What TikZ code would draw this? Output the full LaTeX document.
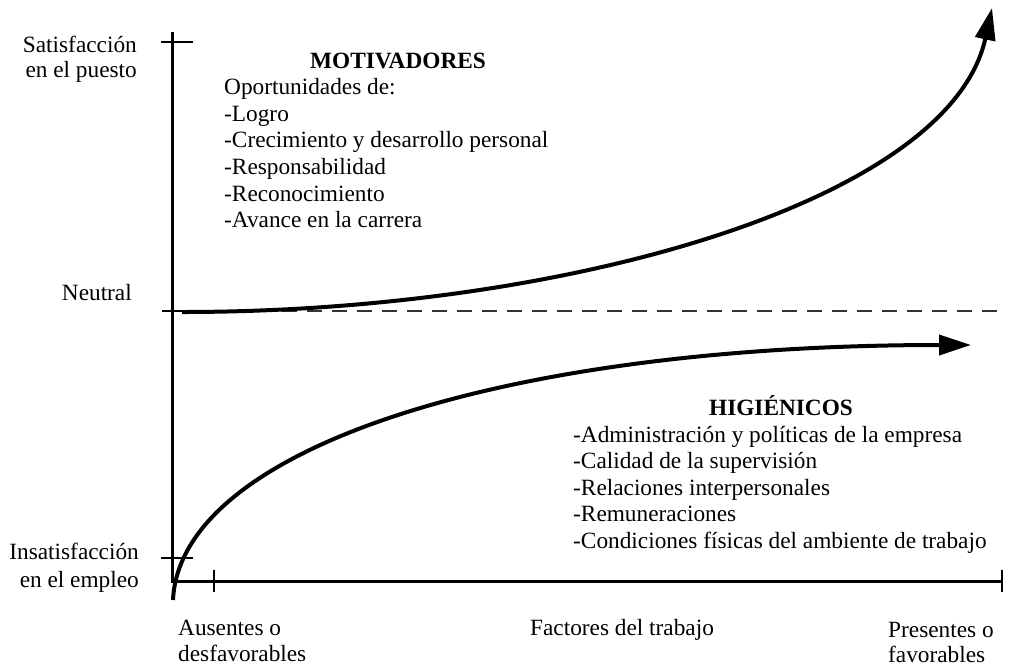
\documentclass[tikz,border=0pt]{standalone}
\usepackage{fontspec}
\setmainfont{Liberation Serif}
\usetikzlibrary{arrows.meta}
\begin{document}
\begin{tikzpicture}[x=1pt,y=-1pt,
  txt/.style={font=\fontsize{23.3}{26.6}\selectfont, inner sep=0pt},
  head/.style={txt, font=\fontsize{23.3}{26.6}\selectfont\bfseries},
  axis/.style={line width=3pt},
  tick/.style={line width=2pt},
  curve/.style={line width=4pt, -{Triangle[length=32pt,width=20pt]}},
  neutral/.style={line width=2.5pt, black!80, dash pattern=on 15pt off 10pt}]
\useasboundingbox (0,0) rectangle (1014,667);

% axes
\coordinate (ytop) at (172,32);
\coordinate (orig) at (172,581);
\coordinate (xend) at (1003,581);
\draw[axis] (ytop) -- (orig) -- (xend);

% ticks
\coordinate (t1a) at (161,42);  \coordinate (t1b) at (193,42);
\coordinate (t2a) at (161,558); \coordinate (t2b) at (193,558);
\coordinate (t3a) at (214,570); \coordinate (t3b) at (214,592);
\coordinate (t4a) at (1002,570); \coordinate (t4b) at (1002,592);
\coordinate (t5a) at (162,311); \coordinate (t5b) at (182,311);
\draw[tick] (t1a) -- (t1b);
\draw[tick] (t2a) -- (t2b);
\draw[tick] (t3a) -- (t3b);
\draw[tick] (t4a) -- (t4b);
\draw[tick] (t5a) -- (t5b);

% neutral level
\coordinate (n0) at (182,311);
\coordinate (n1) at (1006,311);
\draw[neutral] (n0) -- (n1);

% motivators curve
\coordinate (ms) at (182,312);
\coordinate (me) at (992,8);
\draw[curve] (ms) .. controls (570,312) and (950,200) .. (me);

% hygiene curve
\coordinate (hs) at (173,600);
\coordinate (he) at (971,345);
\draw[curve] (hs) .. controls (180,450) and (500,345) .. (he);

% axis labels
\node[txt, anchor=base east] (sat1) at (137,52) {Satisfacción};
\node[txt, anchor=base east] (sat2) at (137,77) {en el puesto};
\node[txt, anchor=base east] (neu) at (132,300) {Neutral};
\node[txt, anchor=base east] (ins1) at (139,559) {Insatisfacción};
\node[txt, anchor=base east] (ins2) at (139,587) {en el empleo};
\node[txt, anchor=base west] (aus1) at (178,635) {Ausentes o};
\node[txt, anchor=base west] (aus2) at (178,661) {desfavorables};
\node[txt, anchor=base] (fac) at (622,635) {Factores del trabajo};
\node[txt, anchor=base west] (pre1) at (888,637) {Presentes o};
\node[txt, anchor=base west] (pre2) at (888,662) {favorables};

% motivators
\node[head, anchor=base] (mot) at (398,68) {MOTIVADORES};
\node[txt, anchor=base west] (m1) at (224,94.6) {Oportunidades de:};
\node[txt, anchor=base west] (m2) at (224,121.2) {-Logro};
\node[txt, anchor=base west] (m3) at (224,147.8) {-Crecimiento y desarrollo personal};
\node[txt, anchor=base west] (m4) at (224,174.4) {-Responsabilidad};
\node[txt, anchor=base west] (m5) at (224,201) {-Reconocimiento};
\node[txt, anchor=base west] (m6) at (224,227.6) {-Avance en la carrera};

% hygiene factors
\node[head, anchor=base] (hig) at (781,415) {HIGIÉNICOS};
\node[txt, anchor=base west] (h1) at (573,442) {-Administración y políticas de la empresa};
\node[txt, anchor=base west] (h2) at (573,468.6) {-Calidad de la supervisión};
\node[txt, anchor=base west] (h3) at (573,495.2) {-Relaciones interpersonales};
\node[txt, anchor=base west] (h4) at (573,521.8) {-Remuneraciones};
\node[txt, anchor=base west] (h5) at (573,548.4) {-Condiciones físicas del ambiente de trabajo};
\end{tikzpicture}
\end{document}
